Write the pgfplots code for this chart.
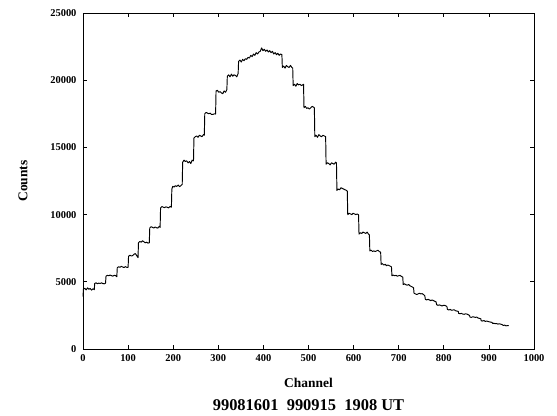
\documentclass[border=0pt]{standalone}
\usepackage{pgfplots}
\pgfplotsset{compat=1.18}
\usepackage{fontspec}
\setmainfont{Liberation Serif}
\begin{document}
\begin{tikzpicture}
\begin{axis}[
  scale only axis,
  width=451bp, height=336bp,
  xmin=0, xmax=1000, ymin=0, ymax=25000,
  xtick={0,100,...,1000}, ytick={0,5000,...,25000},
  scaled y ticks=false, scaled x ticks=false,
  /pgf/number format/assume math mode=true,
  /pgf/number format/set thousands separator={},
  tick align=inside,
  major tick length=4bp,
  axis line style={line width=0.9bp},
  every tick/.style={black, line width=0.7bp},
  ticklabel style={font=\fontsize{10.5}{12}\selectfont\bfseries},
  xticklabel style={yshift=-2bp},
  yticklabel style={xshift=-3bp},
  xlabel={Channel},
  ylabel={Counts},
  label style={font=\fontsize{13.5}{15}\selectfont\bfseries},
  xlabel style={at={([yshift=-34bp]axis description cs:0.5,0)}, anchor=center},
  ylabel style={at={([xshift=-60bp]axis description cs:0,0.5)}, anchor=center},
  clip=false,
]
\addplot[black, line width=0.95bp, line join=round] table {
x y
0 3900
1 4450
4 4520
7 4400
10 4550
13 4450
16 4500
19 4380
22 4480
25 4420
26 4880
29 4920
32 4860
35 4900
38 4880
41 4920
44 4870
47 4850
50 4900
51 5420
54 5480
57 5450
60 5500
63 5460
66 5420
69 5480
72 5460
75 5380
76 6050
79 6120
82 6080
85 6150
88 6100
91 6060
94 6130
97 6080
100 6080
101 6900
104 6980
107 6920
110 6950
113 7050
116 7100
119 6950
122 6800
123 7900
126 8000
129 7950
132 8050
135 7980
138 7900
141 7950
144 7880
147 7900
148 9000
151 9100
154 9050
157 9000
160 9080
163 9020
166 9000
169 9120
171 9050
172 10500
175 10600
178 10550
181 10520
184 10580
187 10540
190 10500
193 10600
196 10550
197 11900
199 12100
202 12050
205 12150
208 12100
211 12200
214 12080
217 12150
220 12250
221 13900
224 14050
227 13950
230 14000
233 13850
236 13950
239 13800
242 14050
245 14000
246 15700
249 15800
252 15850
255 15750
258 15900
261 15850
264 15800
267 15950
269 15900
270 17500
273 17600
276 17550
279 17500
282 17550
285 17450
288 17450
291 17500
294 17480
295 19200
298 19250
301 19100
304 19150
307 19050
310 19000
313 19200
316 19100
319 19300
320 20300
323 20400
326 20250
329 20450
332 20300
335 20400
338 20350
341 20250
344 20500
345 21400
348 21500
351 21350
354 21550
357 21450
360 21600
363 21550
366 21700
369 21650
372 21850
375 21750
378 21950
381 21850
384 22050
387 21950
390 22100
393 22150
396 22400
399 22200
402 22300
405 22150
408 22250
411 22100
414 22200
417 22050
420 22150
423 21950
426 22050
429 21900
432 22000
435 21850
438 21950
441 21900
442 20950
445 21050
448 20900
451 21100
454 21000
457 20950
460 21100
463 20950
465 20900
466 19600
469 19700
472 19550
475 19750
478 19650
481 19700
484 19600
487 19650
489 19700
490 17950
493 18050
496 17900
499 17950
502 17850
505 17950
508 18050
511 18000
513 17950
514 15800
517 15900
520 15750
523 15950
526 15850
529 15800
532 15900
535 15850
538 15800
539 13750
542 13850
545 13800
548 13700
551 13850
554 13800
557 13750
560 13900
562 13850
563 11800
566 11900
569 11850
572 12000
575 11950
578 11900
581 11850
584 11800
586 11750
587 10000
590 10100
593 10050
596 10000
599 10100
602 10050
605 10000
608 10050
611 9980
612 8550
615 8650
618 8600
621 8700
624 8650
627 8600
630 8700
633 8550
635 8500
636 7300
639 7350
642 7250
645 7300
648 7250
651 7300
654 7350
657 7250
660 7200
661 6300
664 6350
667 6250
670 6300
673 6200
676 6250
679 6200
682 6150
684 6100
685 5450
688 5500
691 5450
694 5480
697 5420
700 5450
703 5480
706 5400
709 5350
710 4800
713 4850
716 4780
719 4750
722 4800
725 4700
728 4650
731 4600
733 4550
734 4150
737 4100
740 4050
743 4100
746 4150
749 4100
752 4120
755 4050
758 3950
759 3700
762 3650
765 3700
768 3650
771 3600
774 3650
777 3600
780 3550
783 3500
784 3300
787 3250
790 3280
793 3250
796 3200
799 3250
802 3250
805 3200
807 3150
808 2950
811 2900
814 2950
817 2880
820 2900
823 2920
826 2850
829 2820
832 2800
833 2650
836 2620
839 2650
842 2600
845 2580
848 2620
851 2600
854 2550
857 2500
858 2380
861 2350
864 2400
867 2380
870 2350
873 2380
876 2300
879 2280
882 2250
883 2100
886 2080
889 2120
892 2050
895 2080
898 2050
901 2020
904 2000
907 1980
908 1900
911 1920
914 1880
917 1900
920 1850
923 1880
926 1850
929 1820
931 1780
932 1750
935 1780
938 1720
941 1750
944 1730
};
\node[font=\fontsize{16.5}{18}\selectfont\bfseries, anchor=center] at (rel axis cs:0.5,0) [yshift=-56bp] {99081601\ \ 990915\ \ 1908 UT};
\end{axis}
\path ([xshift=-83bp,yshift=-67bp]current axis.south west) rectangle ([xshift=23bp,yshift=13bp]current axis.north east);
\end{tikzpicture}
\end{document}
